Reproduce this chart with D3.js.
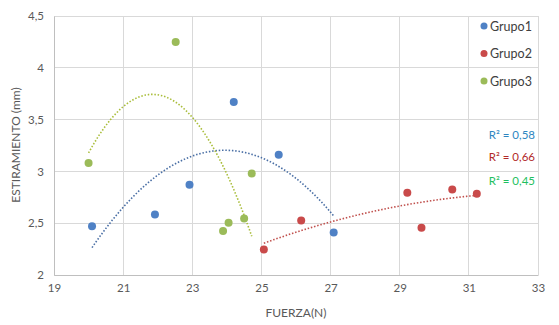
<!DOCTYPE html>
<html><head><meta charset="utf-8">
<script src="https://cdn.jsdelivr.net/npm/d3@7"></script>
<style>
html,body{margin:0;padding:0;background:#fff;}
svg{display:block;font-family:Lato,"Open Sans",sans-serif;}
</style></head>
<body><svg id="c" width="559" height="325"></svg>
<script>
// ---- data ----
const seriesNames = ["Grupo1", "Grupo2", "Grupo3"];
const grupo1X = [20.1, 21.92, 22.92, 24.2, 25.5, 27.09];
const grupo1Y = [2.47, 2.585, 2.87, 3.67, 3.16, 2.41];
const grupo2X = [25.07, 26.15, 29.22, 29.63, 30.52, 31.23];
const grupo2Y = [2.245, 2.525, 2.795, 2.455, 2.825, 2.785];
const grupo3X = [20.0, 22.52, 23.89, 24.05, 24.5, 24.72];
const grupo3Y = [3.08, 4.25, 2.425, 2.505, 2.545, 2.98];
const r2Labels = ["R² = 0,58", "R² = 0,66", "R² = 0,45"];
const xTicks = [19, 21, 23, 25, 27, 29, 31, 33];
const yTicks = [2, 2.5, 3, 3.5, 4, 4.5];
const xTitle = "FUERZA(N)";
const yTitle = "ESTIRAMIENTO (mm)";

const colors = ["#4f81c5", "#c94a4a", "#9bbb59"];
const trendColors = ["#4a6fa5", "#c0504d", "#a9bd3a"];
const r2Colors = ["#2e86c1", "#b22a2a", "#1fbf5f"];

const svg = d3.select("#c");
const L = 54, R = 538, T = 16, B = 275;
const x = d3.scaleLinear().domain([19, 33]).range([L, R]);
const y = d3.scaleLinear().domain([2, 4.5]).range([B, T]);
const fmt = v => String(v).replace(".", ",");

// grid
svg.append("g").selectAll("line").data(xTicks).join("line")
  .attr("x1", d => x(d)).attr("x2", d => x(d)).attr("y1", T).attr("y2", B)
  .attr("stroke", "#d9d9d9").attr("stroke-width", 1).attr("shape-rendering","crispEdges");
svg.append("g").selectAll("line").data(yTicks).join("line")
  .attr("x1", L).attr("x2", R).attr("y1", d => y(d)).attr("y2", d => y(d))
  .attr("stroke", "#d9d9d9").attr("stroke-width", 1).attr("shape-rendering","crispEdges");

// axes
const xa = svg.append("g").attr("transform", `translate(0,${B})`)
  .call(d3.axisBottom(x).tickValues(xTicks).tickFormat(fmt).tickSize(0).tickPadding(9));
const ya = svg.append("g").attr("transform", `translate(${L},0)`)
  .call(d3.axisLeft(y).tickValues(yTicks).tickFormat(fmt).tickSize(0).tickPadding(10));
[xa, ya].forEach(a => {
  a.select(".domain").attr("stroke", "#bfbfbf");
  a.selectAll("text").attr("fill", "#595959").attr("font-size", 11.5).attr("font-family", "Lato, sans-serif");
});

// titles
svg.append("text").attr("x", 296).attr("y", 317).attr("text-anchor", "middle")
  .attr("fill", "#595959").attr("font-size", 12).text(xTitle);
svg.append("text").attr("transform", "translate(20,145) rotate(-90)").attr("text-anchor", "middle")
  .attr("fill", "#595959").attr("font-size", 12).text(yTitle);

// polynomial (order 2) least-squares trendline
function polyfit2(xs, ys) {
  const n = xs.length;
  let s = [0,0,0,0,0], t = [0,0,0];
  for (let i = 0; i < n; i++) {
    for (let k = 0; k < 5; k++) s[k] += Math.pow(xs[i], k);
    for (let k = 0; k < 3; k++) t[k] += ys[i] * Math.pow(xs[i], k);
  }
  const A = [[s[0], s[1], s[2], t[0]], [s[1], s[2], s[3], t[1]], [s[2], s[3], s[4], t[2]]];
  for (let i = 0; i < 3; i++) {
    for (let j = i + 1; j < 3; j++) {
      const f = A[j][i] / A[i][i];
      for (let k = i; k < 4; k++) A[j][k] -= f * A[i][k];
    }
  }
  const c = [0,0,0];
  for (let i = 2; i >= 0; i--) {
    let v = A[i][3];
    for (let k = i + 1; k < 3; k++) v -= A[i][k] * c[k];
    c[i] = v / A[i][i];
  }
  return xv => c[0] + c[1] * xv + c[2] * xv * xv;
}

const series = [[grupo1X, grupo1Y], [grupo2X, grupo2Y], [grupo3X, grupo3Y]];
const line = d3.line().x(d => x(d[0])).y(d => y(d[1]));
series.forEach(([xs, ys], i) => {
  const f = polyfit2(xs, ys);
  const x0 = d3.min(xs), x1 = d3.max(xs);
  const pts = d3.range(0, 61).map(k => { const xv = x0 + (x1 - x0) * k / 60; return [xv, f(xv)]; });
  svg.append("path").attr("d", line(pts)).attr("fill", "none")
    .attr("stroke", trendColors[i]).attr("stroke-width", 1.6)
    .attr("stroke-dasharray", "1.5,1.8");
});

// points
series.forEach(([xs, ys], i) => {
  svg.append("g").selectAll("circle").data(xs.map((v, k) => [v, ys[k]])).join("circle")
    .attr("cx", d => x(d[0])).attr("cy", d => y(d[1])).attr("r", 4)
    .attr("fill", colors[i]);
});

// legend
const leg = svg.append("g");
seriesNames.forEach((nm, i) => {
  const ly = 26 + i * 27.5;
  leg.append("circle").attr("cx", 484).attr("cy", ly).attr("r", 3.5).attr("fill", colors[i]);
  leg.append("text").attr("x", 490).attr("y", ly + 4.5).attr("fill", "#404040")
    .attr("font-size", 12.5).text(nm);
});

// R² labels
[135, 157, 181].forEach((ly, i) => {
  svg.append("text").attr("x", 535).attr("y", ly + 4).attr("text-anchor", "end")
    .attr("fill", r2Colors[i]).attr("font-size", 11.5).text(r2Labels[i]);
});
</script></body></html>
